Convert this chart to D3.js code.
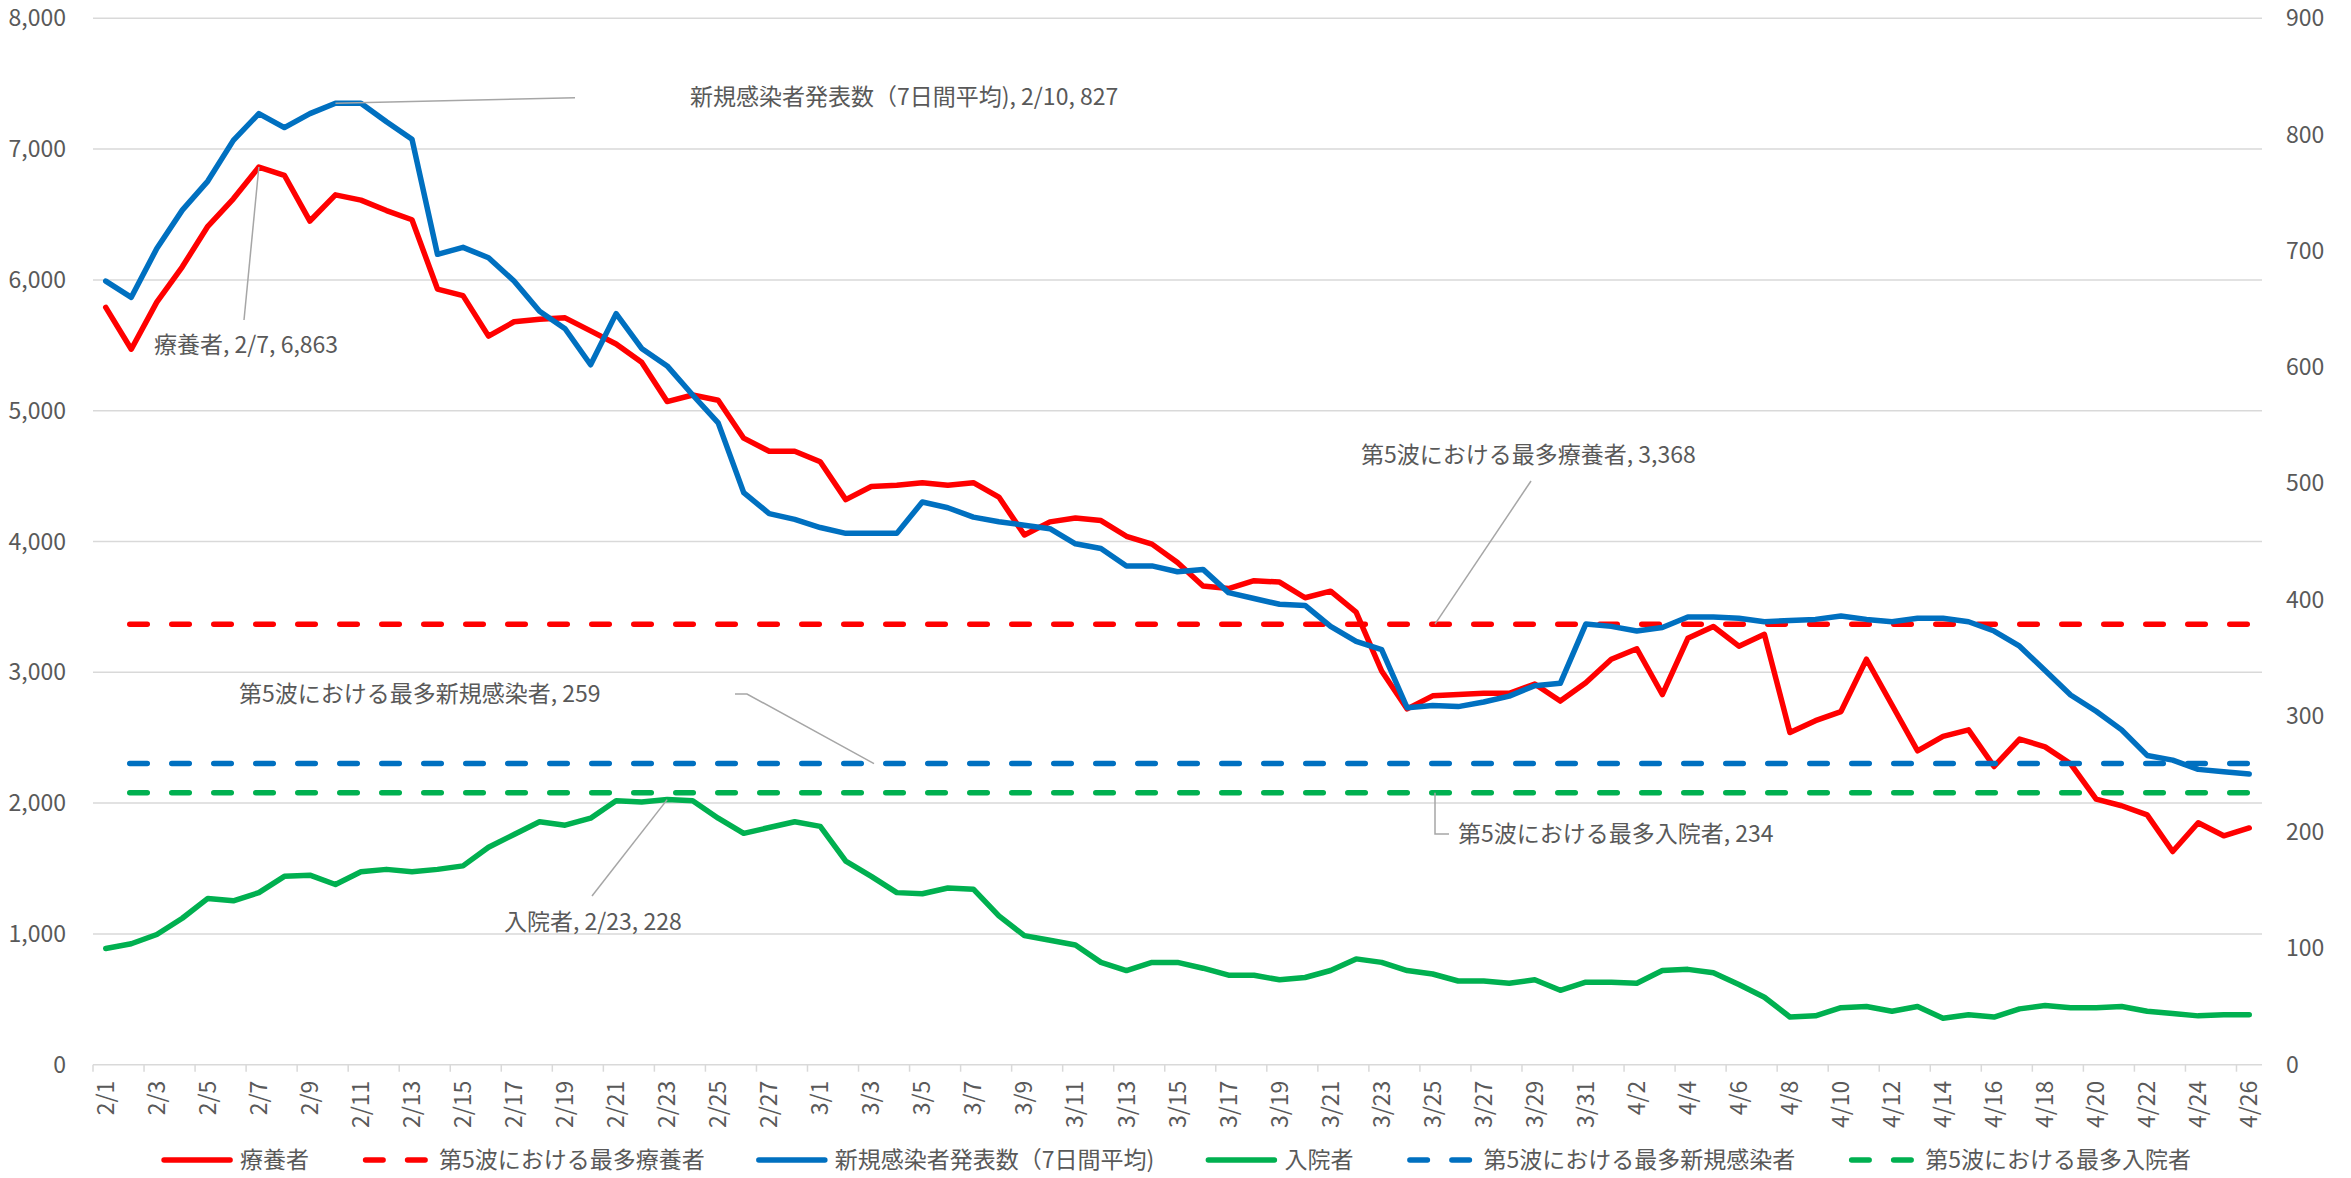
<!DOCTYPE html>
<html>
<head>
<meta charset="utf-8">
<script src="https://cdn.jsdelivr.net/npm/d3@7"></script>
<style>
  body { margin: 0; background: #fff; }
  svg text { font-family: "Noto Sans CJK JP", "Noto Sans", sans-serif; fill: #595959; }
</style>
</head>
<body>
<svg id="chart"></svg>
<script>
// categories (2022/2/1 - 4/26)
var dates = [
    "2/1","2/2","2/3","2/4","2/5","2/6","2/7","2/8","2/9","2/10",
    "2/11","2/12","2/13","2/14","2/15","2/16","2/17","2/18","2/19","2/20",
    "2/21","2/22","2/23","2/24","2/25","2/26","2/27","2/28",
    "3/1","3/2","3/3","3/4","3/5","3/6","3/7","3/8","3/9","3/10",
    "3/11","3/12","3/13","3/14","3/15","3/16","3/17","3/18","3/19","3/20",
    "3/21","3/22","3/23","3/24","3/25","3/26","3/27","3/28","3/29","3/30","3/31",
    "4/1","4/2","4/3","4/4","4/5","4/6","4/7","4/8","4/9","4/10",
    "4/11","4/12","4/13","4/14","4/15","4/16","4/17","4/18","4/19","4/20",
    "4/21","4/22","4/23","4/24","4/25","4/26"
];

// 療養者 (left axis)
var ryoyo = [
    5790, 5470, 5830, 6100, 6410, 6620, 6863, 6800, 6450, 6650,
    6610, 6530, 6460, 5930, 5880, 5570, 5680, 5700, 5710, 5610,
    5510, 5370, 5070, 5120, 5080, 4790, 4690, 4690,
    4610, 4320, 4420, 4430, 4450, 4430, 4450, 4340, 4050, 4150,
    4180, 4160, 4040, 3980, 3840, 3660, 3640, 3700, 3690, 3570,
    3620, 3460, 3010, 2720, 2820, 2830, 2840, 2840, 2910, 2780, 2920,
    3100, 3180, 2830, 3260, 3350, 3200, 3290, 2540, 2630, 2700,
    3100, 2750, 2400, 2510, 2560, 2280, 2490, 2430, 2300, 2030,
    1980, 1910, 1630, 1850, 1750, 1810
];

// 新規感染者発表数（7日間平均) (right axis)
var shinki = [
    674, 660, 702, 735, 760, 795, 818, 806, 818, 827,
    827, 811, 796, 697, 703, 694, 674, 648, 633, 602,
    646, 616, 601, 576, 552, 492, 474, 469,
    462, 457, 457, 457, 484, 479, 471, 467, 464, 461,
    448, 444, 429, 429, 424, 426, 406, 401, 396, 395,
    377, 364, 357, 307, 309, 308, 312, 317, 326, 328, 379,
    377, 373, 376, 385, 385, 384, 381, 382, 383, 386,
    383, 381, 384, 384, 381, 373, 360, 339, 318, 304,
    288, 266, 262, 254, 252, 250
];

// 入院者 (right axis)
var nyuin = [
    100, 104, 112, 126, 143, 141, 148, 162, 163, 155,
    166, 168, 166, 168, 171, 187, 198, 209, 206, 212,
    227, 226, 228, 227, 212, 199, 204, 209,
    205, 175, 162, 148, 147, 152, 151, 128, 111, 107,
    103, 88, 81, 88, 88, 83, 77, 77, 73, 75,
    81, 91, 88, 81, 78, 72, 72, 70, 73, 64, 71,
    71, 70, 81, 82, 79, 69, 58, 41, 42, 49,
    50, 46, 50, 40, 43, 41, 48, 51, 49, 49,
    50, 46, 44, 42, 43, 43
];

// 第5波における最多 (reference levels)
var maxRyoyo5 = 3368,
    maxShinki5 = 259,
    maxNyuin5 = 234;

var leftTicks = [0, 1000, 2000, 3000, 4000, 5000, 6000, 7000, 8000];
var rightTicks = [0, 100, 200, 300, 400, 500, 600, 700, 800, 900];

var width = 2351,
    height = 1178;

var svg = d3.select("#chart")
    .attr("width", width)
    .attr("height", height);

var plot = { left: 93, right: 2262, top: 18.3, bottom: 1064.7 };
var fontSize = "23px";

var x = d3.scaleBand(dates, [plot.left, plot.right]);
var cx = d => x(d) + x.bandwidth() / 2;
var yL = d3.scaleLinear([0, 8000], [plot.bottom, plot.top]);
var yR = d3.scaleLinear([0, 900], [plot.bottom, plot.top]);

var fmt = d3.format(",");
var grid = "#d9d9d9";

// gridlines
svg.append("g")
    .selectAll("line")
    .data(leftTicks.filter(d => d > 0))
    .join("line")
    .attr("x1", plot.left)
    .attr("x2", plot.right)
    .attr("y1", d => yL(d))
    .attr("y2", d => yL(d))
    .attr("stroke", grid)
    .attr("stroke-width", 1.5);

// category axis
var xAxis = svg.append("g");
xAxis.append("line")
    .attr("x1", plot.left)
    .attr("x2", plot.right)
    .attr("y1", plot.bottom)
    .attr("y2", plot.bottom)
    .attr("stroke", grid)
    .attr("stroke-width", 1.5);

var shown = dates.filter((d, i) => i % 2 === 0);

xAxis.selectAll(".tick")
    .data(shown)
    .join("line")
    .attr("x1", d => x(d))
    .attr("x2", d => x(d))
    .attr("y1", plot.bottom)
    .attr("y2", plot.bottom + 7)
    .attr("stroke", grid)
    .attr("stroke-width", 1.5);

xAxis.selectAll("text")
    .data(shown)
    .join("text")
    .attr("transform", d => `translate(${cx(d)},${plot.bottom + 16}) rotate(-90)`)
    .attr("text-anchor", "end")
    .attr("dy", "0.35em")
    .style("font-size", fontSize)
    .text(d => d);

// value axes
svg.append("g")
    .selectAll("text")
    .data(leftTicks)
    .join("text")
    .attr("x", 66)
    .attr("y", d => yL(d))
    .attr("dy", "0.35em")
    .attr("text-anchor", "end")
    .style("font-size", fontSize)
    .text(d => fmt(d));

svg.append("g")
    .selectAll("text")
    .data(rightTicks)
    .join("text")
    .attr("x", 2286)
    .attr("y", d => yR(d))
    .attr("dy", "0.35em")
    .style("font-size", fontSize)
    .text(d => d);

// series
var series = [
    { name: "療養者", values: ryoyo, y: yL, color: "#ff0000", dash: false },
    { name: "第5波における最多療養者", values: dates.map(() => maxRyoyo5), y: yL, color: "#ff0000", dash: true },
    { name: "新規感染者発表数（7日間平均)", values: shinki, y: yR, color: "#0070c0", dash: false },
    { name: "入院者", values: nyuin, y: yR, color: "#00b050", dash: false },
    { name: "第5波における最多新規感染者", values: dates.map(() => maxShinki5), y: yR, color: "#0070c0", dash: true },
    { name: "第5波における最多入院者", values: dates.map(() => maxNyuin5), y: yR, color: "#00b050", dash: true }
];

var lineFor = s => d3.line()
    .x((v, i) => cx(dates[i]))
    .y(v => s.y(v));

svg.append("g")
    .attr("fill", "none")
    .attr("stroke-linejoin", "round")
    .attr("stroke-linecap", "round")
    .selectAll("path")
    .data(series)
    .join("path")
    .attr("stroke", s => s.color)
    .attr("stroke-width", 5.5)
    .attr("stroke-dasharray", s => s.dash ? "17.5,24.5" : null)
    .attr("stroke-dashoffset", s => s.dash ? 18 : null)
    .attr("d", s => lineFor(s)(s.values));

// data labels with leader lines
var iPeakR = dates.indexOf("2/7"),
    iPeakS = dates.indexOf("2/10"),
    iPeakN = dates.indexOf("2/23");

var labels = [
    { text: `${series[2].name}, ${dates[iPeakS]}, ${fmt(shinki[iPeakS])}`, tx: 690, ty: 97,
      leader: [[cx(dates[iPeakS]), yR(shinki[iPeakS])], [575, 97.7]] },
    { text: `${series[0].name}, ${dates[iPeakR]}, ${fmt(ryoyo[iPeakR])}`, tx: 154, ty: 345,
      leader: [[cx(dates[iPeakR]), yL(ryoyo[iPeakR])], [244, 320]] },
    { text: `${series[1].name}, ${fmt(maxRyoyo5)}`, tx: 1361, ty: 455,
      leader: [[1531, 481], [1435, yL(maxRyoyo5)]] },
    { text: `${series[4].name}, ${fmt(maxShinki5)}`, tx: 239, ty: 694,
      leader: [[735, 694], [747, 694], [874, yR(maxShinki5)]] },
    { text: `${series[5].name}, ${fmt(maxNyuin5)}`, tx: 1458, ty: 834,
      leader: [[1435, yR(maxNyuin5)], [1435, 834], [1449, 834]] },
    { text: `${series[3].name}, ${dates[iPeakN]}, ${fmt(nyuin[iPeakN])}`, tx: 504, ty: 922,
      leader: [[592, 896], [cx(dates[iPeakN]), yR(nyuin[iPeakN])]] }
];

var ann = svg.append("g");
ann.selectAll("path")
    .data(labels)
    .join("path")
    .attr("fill", "none")
    .attr("stroke", "#a6a6a6")
    .attr("stroke-width", 1.5)
    .attr("d", d => d3.line()(d.leader));

ann.selectAll("text")
    .data(labels)
    .join("text")
    .attr("x", d => d.tx)
    .attr("y", d => d.ty)
    .attr("dy", "0.35em")
    .style("font-size", fontSize)
    .text(d => d.text);

// legend
var legend = svg.append("g");
var items = legend.selectAll("g")
    .data(series)
    .join("g");

items.append("line")
    .attr("x1", 0)
    .attr("x2", 66)
    .attr("y1", 0)
    .attr("y2", 0)
    .attr("stroke", s => s.color)
    .attr("stroke-width", 5.5)
    .attr("stroke-linecap", "round")
    .attr("stroke-dasharray", s => s.dash ? "17.5,24.5" : null)
    .attr("stroke-dashoffset", s => s.dash ? -2.5 : null);

items.append("text")
    .attr("x", 76)
    .attr("dy", "0.33em")
    .style("font-size", fontSize)
    .text(s => s.name);

var gap = 54, pos = [], acc = 0;
items.each(function (s, i) {
    var w = 76 + this.querySelector("text").getComputedTextLength();
    pos.push(acc);
    acc += w + gap;
});
var total = acc - gap;
var start = (plot.left + plot.right) / 2 - total / 2;
items.attr("transform", (s, i) => `translate(${start + pos[i]},1160)`);
</script>
</body>
</html>
